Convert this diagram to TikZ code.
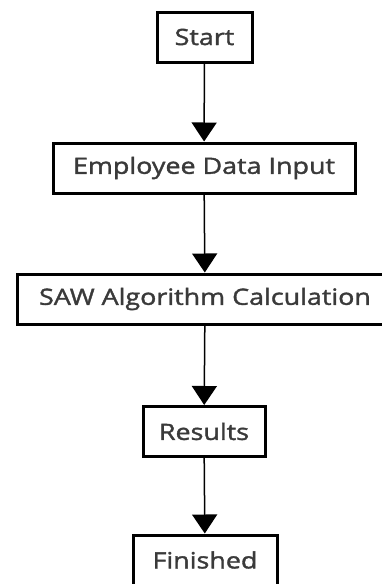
\documentclass[tikz,border=0pt]{standalone}
\usepackage{fontspec}
\setmainfont{Open Sans}[FakeStretch=1.2, FakeBold=1.6]
\usetikzlibrary{arrows.meta}
\definecolor{txt}{HTML}{3A3A3A}
\tikzset{
  box/.style={draw=black, line width=3pt, fill=white, inner sep=0pt, minimum height=50pt, text=txt, font=\fontsize{22.4}{25}\selectfont},
  flow/.style={line width=1.5pt, -{Triangle[width=25pt,length=19pt]}}
}
\begin{document}
\begin{tikzpicture}[x=1pt,y=1pt]
\useasboundingbox (0,0) rectangle (381,-584);
\node[box, minimum width=95pt] (start) at (204.5,-37) {Start};
\node[box, minimum width=302pt] (emp) at (204,-168) {Employee Data Input};
\node[box, minimum width=376pt] (saw) at (205,-299) {SAW Algorithm Calculation};
\node[box, minimum width=122pt] (res) at (204,-431.5) {Results};
\node[box, minimum width=144pt] (fin) at (205,-560) {Finished};
\draw[flow] (start) -- (emp);
\draw[flow] (emp) -- (saw);
\draw[flow] (saw) -- (res);
\draw[flow] (res) -- (fin);
\end{tikzpicture}
\end{document}
